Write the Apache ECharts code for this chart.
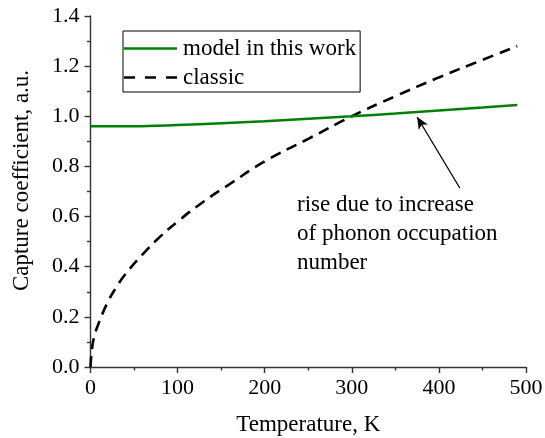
<!DOCTYPE html>
<html>
<head>
<meta charset="utf-8">
<script src="https://cdn.jsdelivr.net/npm/echarts@6/dist/echarts.min.js"></script>
<style>
  html, body { margin: 0; padding: 0; background: #fff; }
  #chart { width: 545px; height: 438px; }
</style>
</head>
<body>
<div id="chart"></div>
<script>
// 数据：值
const modelT = [0, 25, 50, 75, 100, 150, 200, 250, 300, 350, 400, 450, 490];
const modelC = [0.960, 0.960, 0.960, 0.962, 0.965, 0.972, 0.980, 0.990, 1.000, 1.011, 1.023, 1.035, 1.045];

const classicT = [0, 2, 5, 10, 20, 30, 40, 60, 80, 100, 130, 160, 200, 250, 300, 350, 400, 450, 490];
const classicC = [0, 0.08, 0.13, 0.18, 0.26, 0.32, 0.37, 0.45, 0.52, 0.58, 0.66, 0.73, 0.82, 0.91, 1.00, 1.08, 1.155, 1.225, 1.28];

const xTicks = [0, 100, 200, 300, 400, 500];
const yTicks = [0.0, 0.2, 0.4, 0.6, 0.8, 1.0, 1.2, 1.4];

// 箭头：尾部 -> 头部
const arrowFrom = [424, 0.714];
const arrowTo = [375, 0.997];

const font = 'Liberation Serif, Times New Roman, serif';
const axisColor = '#333';

// 图例图标：实线 / 虚线
const solidIcon = 'path://M0,0h53v2.5h-53z';
const dashIcon = 'path://M0,0h11v2.5h-11z M21,0h11v2.5h-11z M42,0h11v2.5h-11z';

const chart = echarts.init(document.getElementById('chart'));

const axisCommon = {
  axisLine: { show: true, lineStyle: { color: axisColor, width: 1.4 } },
  axisTick: { show: true, inside: false, length: 6, lineStyle: { color: axisColor, width: 1.4 } },
  minorTick: { show: true, splitNumber: 2, length: 3.5, lineStyle: { color: axisColor, width: 1.4 } },
  splitLine: { show: false },
  axisLabel: { color: '#000', fontFamily: font, fontSize: 22 },
  nameTextStyle: { color: '#000', fontFamily: font, fontSize: 23 }
};

chart.setOption({
  animation: false,
  grid: { left: 90.5, right: 19, top: 16, bottom: 71, containLabel: false, outerBoundsMode: 'none' },
  xAxis: Object.assign({}, axisCommon, {
    type: 'value',
    min: xTicks[0],
    max: xTicks[xTicks.length - 1],
    interval: 100,
    name: 'Temperature, K',
    nameLocation: 'middle',
    nameGap: 46,
    axisLabel: Object.assign({}, axisCommon.axisLabel, { margin: 10 })
  }),
  yAxis: Object.assign({}, axisCommon, {
    type: 'value',
    min: yTicks[0],
    max: yTicks[yTicks.length - 1],
    interval: 0.2,
    name: 'Capture coefficient, a.u.',
    nameLocation: 'middle',
    nameGap: 57,
    nameTextStyle: Object.assign({}, axisCommon.nameTextStyle, { padding: [0, 0, 0, 22] }),
    axisLabel: Object.assign({}, axisCommon.axisLabel, {
      margin: 11,
      formatter: v => v.toFixed(1)
    })
  }),
  legend: {
    orient: 'vertical',
    left: 123,
    top: 31,
    itemWidth: 53,
    itemHeight: 2.5,
    itemGap: 6,
    padding: [6, 4, 3, 1],
    borderColor: '#000',
    borderWidth: 1,
    textStyle: { color: '#000', fontFamily: font, fontSize: 23, padding: [0, 0, 0, 1] },
    data: [
      { name: 'model in this work', icon: solidIcon },
      { name: 'classic', icon: dashIcon }
    ]
  },
  series: [
    {
      name: 'model in this work',
      type: 'line',
      data: modelT.map((t, i) => [t, modelC[i]]),
      smooth: true,
      showSymbol: false,
      symbol: 'none',
      lineStyle: { color: '#008000', width: 2.5 },
      itemStyle: { color: '#008000' },
      z: 3
    },
    {
      name: 'classic',
      type: 'line',
      data: classicT.map((t, i) => [t, classicC[i]]),
      smooth: true,
      showSymbol: false,
      symbol: 'none',
      lineStyle: { color: '#000', width: 2.6, type: [11, 7] },
      itemStyle: { color: '#000' },
      z: 2,
      markLine: {
        silent: true,
        symbol: ['none', 'arrow'],
        symbolSize: [8, 12],
        label: { show: false },
        lineStyle: { color: '#000', width: 1.3, type: 'solid' },
        data: [[{ coord: arrowFrom }, { coord: arrowTo }]]
      }
    }
  ],
  graphic: [
    {
      type: 'text',
      left: 297,
      top: 190,
      style: {
        text: 'rise due to increase\nof phonon occupation\nnumber',
        font: '23px ' + font,
        fill: '#000',
        lineHeight: 29
      }
    }
  ]
});
</script>
</body>
</html>
